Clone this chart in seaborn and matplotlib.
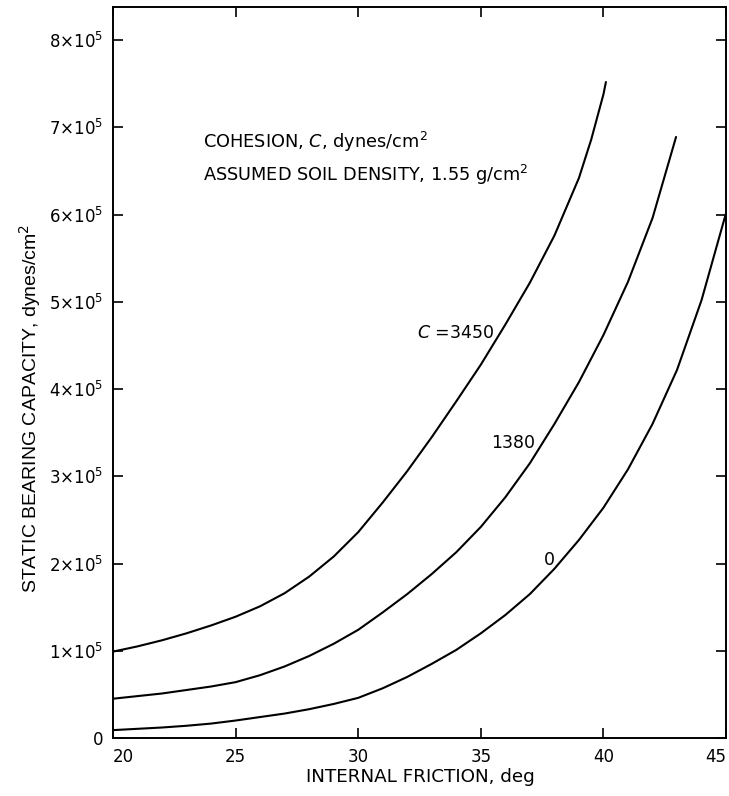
import pandas as pd
import numpy as np
import matplotlib
matplotlib.use('Agg')
import matplotlib.pyplot as plt
import seaborn as sns

sns.set_style('ticks')
plt.rcParams['font.family'] = ['DejaVu Sans']
plt.rcParams['text.color'] = 'black'
plt.rcParams['axes.labelcolor'] = 'black'

# Values (bearing capacity in units of 1e5 dynes/cm2)
friction_3450 = [20, 21, 22, 23, 24, 25, 26, 27, 28, 29, 30, 31, 32, 33, 34, 35, 36, 37, 38, 39, 39.5, 40, 40.1]
capacity_3450 = [0.99, 1.05, 1.12, 1.20, 1.29, 1.39, 1.51, 1.66, 1.85, 2.08, 2.36, 2.70, 3.06, 3.45, 3.86, 4.28, 4.74, 5.22, 5.76, 6.42, 6.86, 7.38, 7.52]

friction_1380 = [20, 21, 22, 23, 24, 25, 26, 27, 28, 29, 30, 31, 32, 33, 34, 35, 36, 37, 38, 39, 40, 41, 42, 42.96]
capacity_1380 = [0.45, 0.48, 0.51, 0.55, 0.59, 0.64, 0.72, 0.82, 0.94, 1.08, 1.24, 1.44, 1.65, 1.88, 2.13, 2.42, 2.76, 3.15, 3.60, 4.08, 4.62, 5.23, 5.96, 6.89]

friction_0 = [20, 21, 22, 23, 24, 25, 26, 27, 28, 29, 30, 31, 32, 33, 34, 35, 36, 37, 38, 39, 40, 41, 42, 43, 44, 45]
capacity_0 = [0.09, 0.105, 0.12, 0.14, 0.165, 0.20, 0.24, 0.28, 0.33, 0.39, 0.46, 0.57, 0.70, 0.85, 1.01, 1.20, 1.41, 1.65, 1.94, 2.27, 2.64, 3.08, 3.60, 4.22, 5.02, 6.02]

x_ticks = [20, 25, 30, 35, 40, 45]
y_ticks = [0, 1, 2, 3, 4, 5, 6, 7, 8]
y_tick_labels = ['0'] + [r'$%d{\times}10^5$' % v for v in y_ticks[1:]]

df = pd.concat([
    pd.DataFrame({'friction': friction_3450, 'capacity': capacity_3450, 'C': '3450'}),
    pd.DataFrame({'friction': friction_1380, 'capacity': capacity_1380, 'C': '1380'}),
    pd.DataFrame({'friction': friction_0, 'capacity': capacity_0, 'C': '0'}),
])

fig = plt.figure(figsize=(7.29, 7.96), dpi=100)
ax = fig.add_axes([0.155, 0.0729, 0.841, 0.9183])

sns.lineplot(data=df, x='friction', y='capacity', hue='C', sort=False,
             palette=['black', 'black', 'black'], linewidth=1.5, legend=False, ax=ax)

ax.set_xlim(20, 45)
ax.set_ylim(0, 8.38)
ax.set_xticks(x_ticks)
ax.set_yticks(y_ticks)
ax.set_yticklabels(y_tick_labels)
ax.tick_params(direction='in', length=7, width=1.2, top=True, right=True,
               labelsize=12, colors='black', pad=7)
for side in ['left', 'right', 'top', 'bottom']:
    ax.spines[side].set_linewidth(1.4)
    ax.spines[side].set_color('black')

# first and last x tick labels sit inside the frame in the original
xl = ax.get_xticklabels()
xl[0].set_horizontalalignment('left')
xl[-1].set_horizontalalignment('right')

ax.set_xlabel('')
ax.set_ylabel('')
fig.text(0.576, 0.012, 'INTERNAL FRICTION, deg', ha='center', va='bottom', fontsize=13.2)
fig.text(0.041, 0.487, 'STATIC BEARING CAPACITY, dynes/cm$^2$', rotation=90,
         ha='center', va='center', fontsize=14, family='Liberation Sans')

ax.text(23.65, 6.83, r'COHESION, $C$, dynes/cm$^2$', fontsize=12.8, va='center')
ax.text(23.65, 6.45, r'ASSUMED SOIL DENSITY, 1.55 g/cm$^2$', fontsize=12.8, va='center')

ax.text(35.55, 4.64, r'$C$ =3450', fontsize=12.5, ha='right', va='center')
ax.text(37.2, 3.38, '1380', fontsize=12.5, ha='right', va='center')
ax.text(37.8, 2.04, '0', fontsize=12.5, ha='center', va='center')

plt.savefig('out.png', dpi=100)
